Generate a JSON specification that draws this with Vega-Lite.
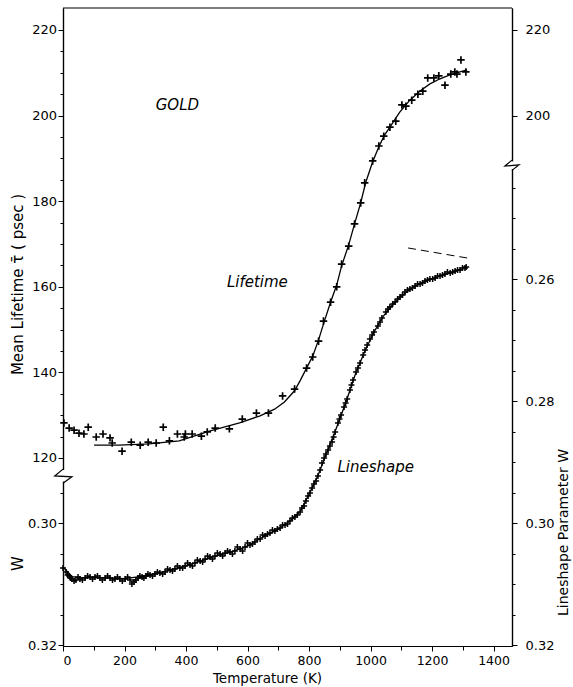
{
  "$schema": "https://vega.github.io/schema/vega-lite/v6.json",
  "width": 449,
  "height": 638,
  "autosize": {"type": "none"},
  "padding": {"left": 63, "top": 8, "right": 61, "bottom": 41},
  "background": "white",
  "config": {
    "view": {"stroke": null},
    "axis": {
      "grid": false,
      "domainColor": "black",
      "domainWidth": 1.2,
      "tickColor": "black",
      "tickWidth": 1,
      "labelColor": "black",
      "titleColor": "black",
      "labelFont": "DejaVu Sans",
      "labelFontSize": 13,
      "titleFont": "DejaVu Sans",
      "titleFontSize": 14,
      "titleFontWeight": "normal",
      "zindex": 0
    }
  },
  "datasets": {
    "tau_pts": [
      {"T": 3, "tau": 128.2}, {"T": 20, "tau": 127.0}, {"T": 36, "tau": 126.5}, {"T": 52, "tau": 125.8},
      {"T": 68, "tau": 125.6}, {"T": 82, "tau": 127.2}, {"T": 108, "tau": 124.9}, {"T": 130, "tau": 125.6},
      {"T": 153, "tau": 124.7}, {"T": 160, "tau": 123.5}, {"T": 192, "tau": 121.6}, {"T": 222, "tau": 123.7},
      {"T": 251, "tau": 123.0}, {"T": 277, "tau": 123.7}, {"T": 303, "tau": 123.5}, {"T": 326, "tau": 127.2},
      {"T": 346, "tau": 124.0}, {"T": 372, "tau": 125.6}, {"T": 394, "tau": 124.9}, {"T": 398, "tau": 125.6},
      {"T": 420, "tau": 125.6}, {"T": 450, "tau": 125.1}, {"T": 469, "tau": 126.1}, {"T": 495, "tau": 127.0},
      {"T": 541, "tau": 126.8}, {"T": 583, "tau": 129.1}, {"T": 629, "tau": 130.5}, {"T": 668, "tau": 130.5},
      {"T": 714, "tau": 134.5}, {"T": 753, "tau": 136.1}, {"T": 792, "tau": 141.0}, {"T": 812, "tau": 143.6},
      {"T": 831, "tau": 147.3}, {"T": 847, "tau": 152.0}, {"T": 870, "tau": 156.4}, {"T": 890, "tau": 160.0},
      {"T": 906, "tau": 165.3}, {"T": 929, "tau": 169.5}, {"T": 948, "tau": 174.7}, {"T": 968, "tau": 179.6},
      {"T": 981, "tau": 184.3}, {"T": 1007, "tau": 189.4}, {"T": 1027, "tau": 192.9}, {"T": 1043, "tau": 195.2},
      {"T": 1063, "tau": 197.3}, {"T": 1082, "tau": 198.7}, {"T": 1102, "tau": 202.5}, {"T": 1115, "tau": 202.2},
      {"T": 1134, "tau": 203.6}, {"T": 1154, "tau": 205.0}, {"T": 1170, "tau": 205.7}, {"T": 1186, "tau": 208.8},
      {"T": 1206, "tau": 208.8}, {"T": 1222, "tau": 209.3}, {"T": 1242, "tau": 207.1}, {"T": 1261, "tau": 209.7},
      {"T": 1274, "tau": 210.2}, {"T": 1281, "tau": 209.7}, {"T": 1294, "tau": 213.0}, {"T": 1310, "tau": 210.2}
    ],
    "tau_fit": [
      {"T": 101, "tau": 123.0}, {"T": 182, "tau": 123.0}, {"T": 280, "tau": 123.3}, {"T": 378, "tau": 124.0},
      {"T": 476, "tau": 126.3}, {"T": 574, "tau": 128.2}, {"T": 639, "tau": 129.8}, {"T": 688, "tau": 131.4},
      {"T": 720, "tau": 133.1}, {"T": 753, "tau": 135.7}, {"T": 772, "tau": 138.2}, {"T": 792, "tau": 141.0},
      {"T": 812, "tau": 143.8}, {"T": 831, "tau": 147.6}, {"T": 851, "tau": 152.2}, {"T": 870, "tau": 156.4},
      {"T": 890, "tau": 160.4}, {"T": 906, "tau": 164.9}, {"T": 929, "tau": 169.8}, {"T": 948, "tau": 174.7},
      {"T": 968, "tau": 179.6}, {"T": 984, "tau": 184.3}, {"T": 1007, "tau": 189.2}, {"T": 1027, "tau": 192.7},
      {"T": 1046, "tau": 195.5}, {"T": 1063, "tau": 197.3}, {"T": 1095, "tau": 200.8}, {"T": 1128, "tau": 203.6},
      {"T": 1160, "tau": 205.7}, {"T": 1193, "tau": 207.4}, {"T": 1226, "tau": 208.6}, {"T": 1258, "tau": 209.5},
      {"T": 1291, "tau": 210.2}, {"T": 1314, "tau": 210.7}
    ],
    "w_pts": [
      {"T": 0, "W": 0.30737}, {"T": 10, "W": 0.30803}, {"T": 15, "W": 0.30852}, {"T": 20, "W": 0.30869},
      {"T": 24, "W": 0.30901}, {"T": 29, "W": 0.30918}, {"T": 36, "W": 0.30950}, {"T": 42, "W": 0.30934},
      {"T": 49, "W": 0.30885}, {"T": 55, "W": 0.30918}, {"T": 63, "W": 0.30934}, {"T": 72, "W": 0.30901},
      {"T": 80, "W": 0.30869}, {"T": 88, "W": 0.30885}, {"T": 96, "W": 0.30918}, {"T": 104, "W": 0.30885},
      {"T": 112, "W": 0.30869}, {"T": 120, "W": 0.30901}, {"T": 128, "W": 0.30934}, {"T": 137, "W": 0.30901},
      {"T": 145, "W": 0.30869}, {"T": 153, "W": 0.30901}, {"T": 161, "W": 0.30934}, {"T": 169, "W": 0.30918},
      {"T": 177, "W": 0.30885}, {"T": 185, "W": 0.30918}, {"T": 193, "W": 0.30950}, {"T": 202, "W": 0.30918},
      {"T": 210, "W": 0.30885}, {"T": 218, "W": 0.30934}, {"T": 224, "W": 0.30999}, {"T": 231, "W": 0.30967},
      {"T": 237, "W": 0.30934}, {"T": 244, "W": 0.30901}, {"T": 250, "W": 0.30869}, {"T": 257, "W": 0.30885},
      {"T": 263, "W": 0.30901}, {"T": 270, "W": 0.30869}, {"T": 276, "W": 0.30836}, {"T": 283, "W": 0.30852},
      {"T": 291, "W": 0.30869}, {"T": 299, "W": 0.30836}, {"T": 307, "W": 0.30803}, {"T": 315, "W": 0.30819},
      {"T": 324, "W": 0.30836}, {"T": 332, "W": 0.30803}, {"T": 340, "W": 0.30754}, {"T": 348, "W": 0.30770},
      {"T": 356, "W": 0.30787}, {"T": 364, "W": 0.30754}, {"T": 372, "W": 0.30705}, {"T": 380, "W": 0.30737},
      {"T": 389, "W": 0.30737}, {"T": 397, "W": 0.30705}, {"T": 405, "W": 0.30655}, {"T": 413, "W": 0.30688},
      {"T": 421, "W": 0.30705}, {"T": 429, "W": 0.30655}, {"T": 437, "W": 0.30606}, {"T": 446, "W": 0.30623},
      {"T": 454, "W": 0.30639}, {"T": 462, "W": 0.30590}, {"T": 470, "W": 0.30541}, {"T": 478, "W": 0.30557},
      {"T": 486, "W": 0.30590}, {"T": 494, "W": 0.30541}, {"T": 502, "W": 0.30491}, {"T": 511, "W": 0.30508},
      {"T": 519, "W": 0.30541}, {"T": 527, "W": 0.30491}, {"T": 535, "W": 0.30459}, {"T": 543, "W": 0.30475},
      {"T": 551, "W": 0.30508}, {"T": 559, "W": 0.30459}, {"T": 567, "W": 0.30393}, {"T": 576, "W": 0.30426},
      {"T": 584, "W": 0.30459}, {"T": 592, "W": 0.30393}, {"T": 600, "W": 0.30327}, {"T": 608, "W": 0.30360},
      {"T": 616, "W": 0.30344}, {"T": 624, "W": 0.30311}, {"T": 632, "W": 0.30262}, {"T": 641, "W": 0.30262},
      {"T": 649, "W": 0.30196}, {"T": 657, "W": 0.30213}, {"T": 665, "W": 0.30180}, {"T": 673, "W": 0.30164},
      {"T": 681, "W": 0.30114}, {"T": 689, "W": 0.30131}, {"T": 697, "W": 0.30098}, {"T": 706, "W": 0.30082},
      {"T": 714, "W": 0.30032}, {"T": 722, "W": 0.30032}, {"T": 730, "W": 0.30016}, {"T": 738, "W": 0.29967},
      {"T": 746, "W": 0.29917}, {"T": 754, "W": 0.29901}, {"T": 762, "W": 0.29868}, {"T": 771, "W": 0.29819},
      {"T": 777, "W": 0.29754}, {"T": 784, "W": 0.29721}, {"T": 790, "W": 0.29639}, {"T": 797, "W": 0.29557},
      {"T": 803, "W": 0.29508}, {"T": 810, "W": 0.29426}, {"T": 816, "W": 0.29360}, {"T": 823, "W": 0.29311},
      {"T": 829, "W": 0.29229}, {"T": 836, "W": 0.29131}, {"T": 842, "W": 0.29016}, {"T": 849, "W": 0.28934},
      {"T": 855, "W": 0.28869}, {"T": 862, "W": 0.28803}, {"T": 868, "W": 0.28737}, {"T": 875, "W": 0.28672},
      {"T": 880, "W": 0.28590}, {"T": 885, "W": 0.28508}, {"T": 894, "W": 0.28360}, {"T": 899, "W": 0.28294},
      {"T": 904, "W": 0.28229}, {"T": 914, "W": 0.28098}, {"T": 919, "W": 0.28032}, {"T": 924, "W": 0.27967},
      {"T": 933, "W": 0.27819}, {"T": 938, "W": 0.27737}, {"T": 943, "W": 0.27655}, {"T": 953, "W": 0.27524},
      {"T": 959, "W": 0.27459}, {"T": 966, "W": 0.27377}, {"T": 976, "W": 0.27246}, {"T": 982, "W": 0.27164},
      {"T": 989, "W": 0.27082}, {"T": 998, "W": 0.26983}, {"T": 1005, "W": 0.26918}, {"T": 1011, "W": 0.26869},
      {"T": 1024, "W": 0.26770}, {"T": 1031, "W": 0.26705}, {"T": 1037, "W": 0.26639}, {"T": 1050, "W": 0.26541},
      {"T": 1057, "W": 0.26492}, {"T": 1063, "W": 0.26459}, {"T": 1072, "W": 0.26410}, {"T": 1080, "W": 0.26377},
      {"T": 1088, "W": 0.26328}, {"T": 1096, "W": 0.26295}, {"T": 1104, "W": 0.26262}, {"T": 1112, "W": 0.26213},
      {"T": 1120, "W": 0.26180}, {"T": 1128, "W": 0.26164}, {"T": 1136, "W": 0.26147}, {"T": 1145, "W": 0.26115},
      {"T": 1153, "W": 0.26082}, {"T": 1161, "W": 0.26082}, {"T": 1169, "W": 0.26065}, {"T": 1177, "W": 0.26033},
      {"T": 1185, "W": 0.26016}, {"T": 1193, "W": 0.26000}, {"T": 1202, "W": 0.26000}, {"T": 1210, "W": 0.25983},
      {"T": 1218, "W": 0.25951}, {"T": 1226, "W": 0.25951}, {"T": 1234, "W": 0.25934}, {"T": 1242, "W": 0.25918},
      {"T": 1250, "W": 0.25885}, {"T": 1259, "W": 0.25901}, {"T": 1267, "W": 0.25885}, {"T": 1275, "W": 0.25868},
      {"T": 1283, "W": 0.25852}, {"T": 1291, "W": 0.25852}, {"T": 1299, "W": 0.25819}, {"T": 1307, "W": 0.25819},
      {"T": 1311, "W": 0.25803}
    ],
    "w_fit": [
      {"T": 0, "W": 0.3072}, {"T": 30, "W": 0.3088}, {"T": 60, "W": 0.3090}, {"T": 100, "W": 0.3089},
      {"T": 150, "W": 0.3090}, {"T": 200, "W": 0.3091}, {"T": 250, "W": 0.3088}, {"T": 300, "W": 0.3083},
      {"T": 350, "W": 0.3077}, {"T": 400, "W": 0.3070}, {"T": 450, "W": 0.3062}, {"T": 500, "W": 0.3054},
      {"T": 550, "W": 0.3047}, {"T": 600, "W": 0.3038}, {"T": 650, "W": 0.3023}, {"T": 700, "W": 0.3010},
      {"T": 740, "W": 0.2996}, {"T": 770, "W": 0.2982}, {"T": 800, "W": 0.2953}, {"T": 830, "W": 0.2921},
      {"T": 860, "W": 0.2882}, {"T": 890, "W": 0.2843}, {"T": 920, "W": 0.2802}, {"T": 950, "W": 0.2757},
      {"T": 980, "W": 0.2720}, {"T": 1010, "W": 0.2688}, {"T": 1040, "W": 0.2662}, {"T": 1070, "W": 0.2643},
      {"T": 1100, "W": 0.2628}, {"T": 1140, "W": 0.2613}, {"T": 1180, "W": 0.2603}, {"T": 1220, "W": 0.2596},
      {"T": 1260, "W": 0.2590}, {"T": 1307, "W": 0.2582}
    ],
    "dash": [
      {"T": 1122, "W": 0.25491}, {"T": 1314, "W": 0.25655}
    ],
    "notes": [
      {"T": 372, "tau": 202.5, "label": "GOLD"},
      {"T": 632, "tau": 161.1, "label": "Lifetime"},
      {"T": 1017, "tau": 117.9, "label": "Lineshape"}
    ],
    "cover": [
      {"T": 0, "tau": 117.2, "tau2": 114.5},
      {"T": 1460, "tau": 189.3, "tau2": 187.5}
    ],
    "frame": [
      {"g": "left", "i": 0, "T": 0, "tau": 117.4},
      {"g": "left", "i": 1, "T": -27, "tau": 115.8},
      {"g": "left", "i": 2, "T": 29, "tau": 115.6},
      {"g": "left", "i": 3, "T": 2, "tau": 114.2},
      {"g": "right", "i": 0, "T": 1460, "tau": 189.6},
      {"g": "right", "i": 1, "T": 1437, "tau": 188.2},
      {"g": "right", "i": 2, "T": 1483, "tau": 188.5},
      {"g": "right", "i": 3, "T": 1460, "tau": 187.2},
      {"g": "top", "i": 0, "T": 0, "tau": 225.14},
      {"g": "top", "i": 1, "T": 1460, "tau": 225.14}
    ]
  },
  "encoding": {
    "x": {
      "field": "T",
      "type": "quantitative",
      "scale": {"domain": [0, 1460], "nice": false, "zero": false},
      "axis": {
        "orient": "bottom",
        "values": [0, 100, 200, 300, 400, 500, 600, 700, 800, 900, 1000, 1100, 1200, 1300, 1400],
        "format": "d",
        "labelExpr": "datum.value % 200 === 0 ? datum.label : ''",
        "tickSize": {"condition": {"test": "datum.value % 200 === 0", "value": 5}, "value": 4},
        "labelPadding": 3,
        "labelFontSize": 12.5,
        "title": "Temperature (K)",
        "titleFontSize": 13.5,
        "titleX": 204,
        "titleY": 32,
        "titleBaseline": "middle"
      }
    }
  },
  "layer": [
    {
      "data": {"name": "tau_pts"},
      "mark": {"type": "point", "shape": "M-1,0L1,0M0,-1L0,1", "filled": false, "stroke": "black", "strokeWidth": 1.7, "size": 56, "opacity": 1},
      "encoding": {
        "y": {
          "field": "tau",
          "type": "quantitative",
          "scale": {"domain": [76.07, 225.14], "nice": false, "zero": false},
          "axis": {
            "orient": "left",
            "values": [120, 125, 130, 135, 140, 145, 150, 155, 160, 165, 170, 175, 180, 185, 190, 195, 200, 205, 210, 215, 220],
            "format": "d",
            "labelExpr": "datum.value % 20 === 0 ? datum.label : ''",
            "tickSize": {"condition": {"test": "datum.value % 20 === 0", "value": 5}, "value": 3},
            "labelPadding": 1.5,
            "title": "Mean Lifetime  τ̄ ( psec )",
            "titleAngle": 270,
            "titleX": -46,
            "titleY": 276,
            "titleBaseline": "middle",
            "titleFontSize": 15
          }
        }
      }
    },
    {
      "data": {"name": "tau_fit"},
      "mark": {"type": "line", "color": "black", "strokeWidth": 1.3},
      "encoding": {
        "y": {
          "field": "tau",
          "type": "quantitative",
          "scale": {"domain": [76.07, 225.14], "nice": false, "zero": false},
          "axis": {
            "orient": "right",
            "values": [200, 220],
            "format": "d",
            "tickSize": 5,
            "labelPadding": 8,
            "title": null
          }
        }
      }
    },
    {
      "data": {"name": "w_pts"},
      "mark": {"type": "point", "shape": "M-1,0L1,0M0,-1L0,1", "filled": false, "stroke": "black", "strokeWidth": 1.5, "size": 36, "opacity": 1},
      "encoding": {
        "y": {
          "field": "W",
          "type": "quantitative",
          "scale": {"domain": [0.21557, 0.32016], "reverse": true, "nice": false, "zero": false},
          "axis": {
            "orient": "left",
            "values": [0.295, 0.3, 0.305, 0.31, 0.315, 0.32],
            "labelExpr": "abs(datum.value*50 - round(datum.value*50)) < 0.001 ? format(datum.value, '.2f') : ''",
            "tickSize": {"condition": {"test": "abs(datum.value*50 - round(datum.value*50)) < 0.001", "value": 5}, "value": 3},
            "labelPadding": 1.5,
            "title": "W",
            "titleAngle": 270,
            "titleX": -46,
            "titleY": 555,
            "titleBaseline": "middle",
            "titleFontSize": 15
          }
        }
      }
    },
    {
      "data": {"name": "w_fit"},
      "mark": {"type": "line", "color": "black", "strokeWidth": 1.3},
      "encoding": {
        "y": {
          "field": "W",
          "type": "quantitative",
          "scale": {"domain": [0.21557, 0.32016], "reverse": true, "nice": false, "zero": false},
          "axis": {
            "orient": "right",
            "values": [0.245, 0.25, 0.255, 0.26, 0.265, 0.27, 0.275, 0.28, 0.285, 0.29, 0.295, 0.3, 0.305, 0.31, 0.315, 0.32],
            "labelExpr": "abs(datum.value*50 - round(datum.value*50)) < 0.001 ? format(datum.value, '.2f') : ''",
            "tickSize": {"condition": {"test": "abs(datum.value*50 - round(datum.value*50)) < 0.001", "value": 5}, "value": 3},
            "labelPadding": 8,
            "title": "Lineshape  Parameter  W",
            "titleAngle": 270,
            "titleX": 51,
            "titleY": 524,
            "titleBaseline": "middle",
            "titleFontSize": 14
          }
        }
      }
    },
    {
      "data": {"name": "dash"},
      "mark": {"type": "line", "color": "black", "strokeWidth": 1, "strokeDash": [8, 5]},
      "encoding": {
        "y": {
          "field": "W",
          "type": "quantitative",
          "scale": {"domain": [0.21557, 0.32016], "reverse": true, "nice": false, "zero": false},
          "axis": null
        }
      }
    },
    {
      "data": {"name": "notes"},
      "mark": {"type": "text", "font": "DejaVu Sans", "fontSize": 15, "fontStyle": "italic", "color": "black"},
      "encoding": {
        "y": {
          "field": "tau",
          "type": "quantitative",
          "scale": {"domain": [76.07, 225.14], "nice": false, "zero": false},
          "axis": null
        },
        "text": {"field": "label"}
      }
    },
    {
      "data": {"name": "cover"},
      "mark": {"type": "rule", "color": "white", "strokeWidth": 5},
      "encoding": {
        "y": {
          "field": "tau",
          "type": "quantitative",
          "scale": {"domain": [76.07, 225.14], "nice": false, "zero": false},
          "axis": null
        },
        "y2": {"field": "tau2"}
      }
    },
    {
      "data": {"name": "frame"},
      "mark": {"type": "line", "color": "black", "strokeWidth": 1.2},
      "encoding": {
        "y": {
          "field": "tau",
          "type": "quantitative",
          "scale": {"domain": [76.07, 225.14], "nice": false, "zero": false},
          "axis": null
        },
        "detail": {"field": "g"},
        "order": {"field": "i", "type": "quantitative"}
      }
    }
  ],
  "resolve": {"scale": {"y": "independent"}, "axis": {"y": "independent"}}
}
